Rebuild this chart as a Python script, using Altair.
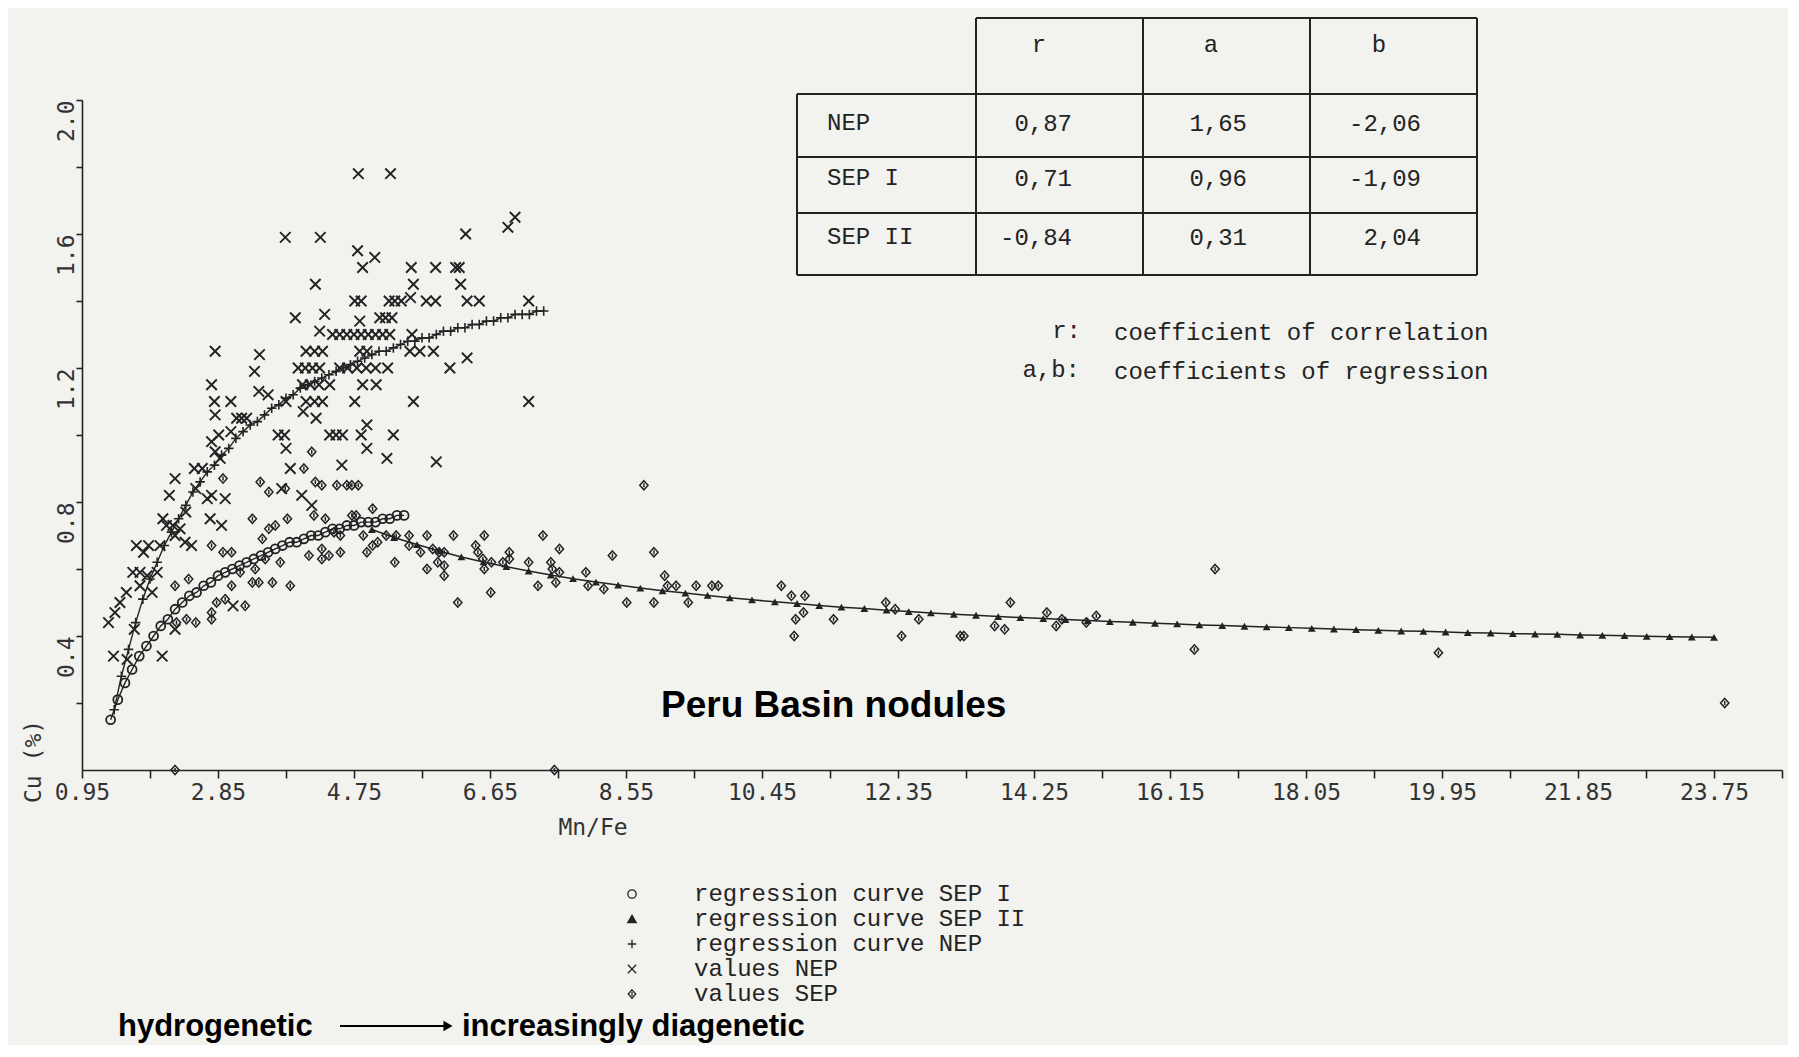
import altair as alt
import pandas as pd

# ---------------- data ----------------
X_TICKS = [0.95, 1.90, 2.85, 3.80, 4.75, 5.70, 6.65, 7.60, 8.55, 9.50, 10.45, 11.40, 12.35,
           13.30, 14.25, 15.20, 16.15, 17.10, 18.05, 19.00, 19.95, 20.90, 21.85, 22.80, 23.75, 24.70]
Y_TICKS = [0.2, 0.4, 0.6, 0.8, 1.0, 1.2, 1.4, 1.6, 1.8, 2.0]

# regression curve NEP (+)
NEP_CURVE_X = [1.4, 1.5, 1.6, 1.7, 1.8, 1.9, 2.0, 2.1, 2.2, 2.3, 2.4, 2.5, 2.6, 2.7, 2.8, 2.9,
               3.0, 3.1, 3.2, 3.3, 3.4, 3.5, 3.6, 3.7, 3.8, 3.9, 4.0, 4.1, 4.2, 4.3, 4.4, 4.5,
               4.6, 4.7, 4.8, 4.9, 5.0, 5.1, 5.2, 5.3, 5.4, 5.5, 5.6, 5.7, 5.8, 5.9, 6.0, 6.1,
               6.2, 6.3, 6.4, 6.5, 6.6, 6.7, 6.8, 6.9, 7.0, 7.1, 7.2, 7.3, 7.4]
NEP_CURVE_Y = [0.18, 0.28, 0.36, 0.44, 0.51, 0.57, 0.62, 0.67, 0.71, 0.75, 0.79, 0.83, 0.86, 0.89, 0.91, 0.94,
               0.96, 0.99, 1.01, 1.03, 1.04, 1.06, 1.08, 1.09, 1.11, 1.12, 1.14, 1.15, 1.16, 1.17, 1.18, 1.19,
               1.20, 1.21, 1.22, 1.23, 1.24, 1.25, 1.25, 1.26, 1.27, 1.28, 1.28, 1.29, 1.29, 1.30, 1.31, 1.31,
               1.32, 1.32, 1.33, 1.33, 1.34, 1.34, 1.35, 1.35, 1.36, 1.36, 1.36, 1.37, 1.37]

# regression curve SEP I (o)
SEP1_CURVE_X = [1.35, 1.45, 1.55, 1.65, 1.75, 1.85, 1.95, 2.05, 2.15, 2.25, 2.35, 2.45, 2.55, 2.65,
                2.75, 2.85, 2.95, 3.05, 3.15, 3.25, 3.35, 3.45, 3.55, 3.65, 3.75, 3.85, 3.95, 4.05,
                4.15, 4.25, 4.35, 4.45, 4.55, 4.65, 4.75, 4.85, 4.95, 5.05, 5.15, 5.25, 5.35, 5.45]
SEP1_CURVE_Y = [0.15, 0.21, 0.26, 0.30, 0.34, 0.37, 0.40, 0.43, 0.45, 0.48, 0.50, 0.52, 0.53, 0.55,
                0.56, 0.58, 0.59, 0.60, 0.61, 0.62, 0.63, 0.64, 0.65, 0.66, 0.67, 0.68, 0.68, 0.69,
                0.70, 0.70, 0.71, 0.72, 0.72, 0.73, 0.73, 0.74, 0.74, 0.74, 0.75, 0.75, 0.76, 0.76]

# regression curve SEP II (triangles)
SEP2_CURVE_X = [5.00, 5.31, 5.63, 5.94, 6.25, 6.56, 6.88, 7.19, 7.50, 7.81, 8.13, 8.44, 8.75, 9.06,
                9.38, 9.69, 10.00, 10.31, 10.63, 10.94, 11.25, 11.56, 11.88, 12.19, 12.50, 12.81,
                13.13, 13.44, 13.75, 14.06, 14.38, 14.69, 15.00, 15.31, 15.63, 15.94, 16.25, 16.56,
                16.88, 17.19, 17.50, 17.81, 18.13, 18.44, 18.75, 19.06, 19.38, 19.69, 20.00, 20.31,
                20.63, 20.94, 21.25, 21.56, 21.88, 22.19, 22.50, 22.81, 23.13, 23.44, 23.75]
SEP2_CURVE_Y = [0.718, 0.694, 0.673, 0.654, 0.636, 0.621, 0.607, 0.594, 0.582, 0.571, 0.561, 0.552, 0.543, 0.535,
                0.528, 0.521, 0.514, 0.508, 0.502, 0.497, 0.491, 0.486, 0.482, 0.477, 0.473, 0.469,
                0.465, 0.462, 0.458, 0.455, 0.452, 0.449, 0.446, 0.443, 0.441, 0.438, 0.436, 0.433,
                0.431, 0.429, 0.427, 0.425, 0.423, 0.421, 0.419, 0.417, 0.415, 0.414, 0.412, 0.410,
                0.409, 0.407, 0.406, 0.405, 0.403, 0.402, 0.401, 0.399, 0.398, 0.397, 0.396]

# values NEP (x)
NEP_VALUES = [
    (4.81, 1.78), (5.26, 1.78), (3.79, 1.59), (4.28, 1.59), (4.80, 1.55), (5.04, 1.53), (4.87, 1.50),
    (4.21, 1.45), (4.76, 1.40), (4.85, 1.40), (5.24, 1.40), (5.32, 1.40), (5.41, 1.40), (5.54, 1.41),
    (3.93, 1.35), (4.34, 1.36), (4.83, 1.34), (5.11, 1.35), (5.19, 1.35), (5.28, 1.35), (4.27, 1.31),
    (4.45, 1.30), (4.55, 1.30), (4.65, 1.30), (4.75, 1.30), (4.85, 1.30), (4.95, 1.30), (5.05, 1.30),
    (5.15, 1.30), (5.25, 1.30), (5.56, 1.30), (2.81, 1.25), (3.43, 1.24), (4.08, 1.25), (4.20, 1.25),
    (4.31, 1.25), (4.83, 1.25), (4.93, 1.25), (5.53, 1.25), (5.67, 1.25), (5.86, 1.25), (6.33, 1.23),
    (3.36, 1.19), (3.97, 1.20), (4.07, 1.20), (4.17, 1.20), (4.27, 1.20), (4.55, 1.20), (4.66, 1.20),
    (4.79, 1.20), (4.92, 1.20), (5.05, 1.20), (5.22, 1.20), (6.09, 1.20), (3.42, 1.13), (3.55, 1.12),
    (4.03, 1.15), (4.14, 1.15), (4.26, 1.15), (4.41, 1.15), (4.87, 1.15), (5.06, 1.15), (3.03, 1.10),
    (3.80, 1.10), (4.08, 1.10), (4.20, 1.10), (4.31, 1.10), (4.76, 1.10), (5.58, 1.10), (7.19, 1.10),
    (4.04, 1.07), (4.22, 1.05), (2.81, 1.06), (3.11, 1.05), (3.18, 1.05), (3.25, 1.05), (2.76, 0.98),
    (2.86, 1.00), (3.03, 1.01), (3.69, 1.00), (3.78, 1.00), (4.41, 1.00), (4.50, 1.00), (4.59, 1.00),
    (4.85, 1.00), (4.93, 1.03), (5.30, 1.00), (3.80, 0.96), (4.93, 0.96), (7.00, 1.65), (6.90, 1.62),
    (6.31, 1.60), (5.55, 1.50), (5.89, 1.50), (6.17, 1.50), (6.22, 1.50), (5.58, 1.45), (6.24, 1.45),
    (5.76, 1.40), (5.89, 1.40), (6.33, 1.40), (6.50, 1.40), (7.19, 1.40),
    (1.32, 0.44), (1.39, 0.34), (1.58, 0.33), (1.41, 0.47), (1.48, 0.50), (1.57, 0.53), (1.68, 0.42),
    (1.66, 0.59), (1.76, 0.59), (1.76, 0.55), (1.86, 0.58), (1.93, 0.53), (2.00, 0.59), (1.71, 0.67),
    (1.81, 0.65), (1.88, 0.67), (2.04, 0.67), (2.08, 0.75), (2.13, 0.73), (2.22, 0.73), (2.25, 0.70),
    (2.32, 0.72), (2.39, 0.68), (2.48, 0.67), (2.17, 0.82), (2.25, 0.87), (2.40, 0.77), (2.52, 0.90),
    (2.54, 0.84), (2.63, 0.90), (2.70, 0.81), (2.76, 0.82), (2.74, 0.75), (2.90, 0.73), (2.81, 0.95),
    (2.88, 0.93), (2.95, 0.81), (2.25, 0.42), (2.07, 0.34), (3.06, 0.49), (3.86, 0.90), (3.74, 0.84),
    (4.02, 0.82), (4.16, 0.79), (4.58, 0.91), (5.21, 0.93), (5.90, 0.92), (2.76, 1.15), (2.80, 1.10),
]

# values SEP (diamonds)
SEP_VALUES = [
    (2.25, 0.00), (7.55, 0.00),
    (2.25, 0.55), (2.44, 0.57), (2.27, 0.44), (2.41, 0.45), (2.54, 0.44), (2.76, 0.67), (2.92, 0.87),
    (2.76, 0.47), (2.76, 0.45), (2.83, 0.50), (2.95, 0.51), (3.23, 0.49), (2.92, 0.65), (3.04, 0.65),
    (3.04, 0.55), (3.16, 0.59), (3.33, 0.75), (3.33, 0.56), (3.42, 0.56), (3.37, 0.60), (3.61, 0.56),
    (3.44, 0.86), (3.56, 0.83), (3.47, 0.69), (3.56, 0.72), (3.65, 0.73), (3.82, 0.75), (3.72, 0.62),
    (3.86, 0.55), (3.51, 0.63), (3.79, 0.84), (4.05, 0.90), (4.16, 0.95), (4.21, 0.86), (4.30, 0.85),
    (4.51, 0.85), (4.65, 0.85), (4.72, 0.85), (4.81, 0.85), (4.12, 0.64), (4.30, 0.66), (4.40, 0.64),
    (4.56, 0.65), (4.30, 0.63), (4.19, 0.76), (4.35, 0.75), (4.47, 0.71), (4.56, 0.70), (4.72, 0.76),
    (5.01, 0.78), (4.78, 0.76), (4.88, 0.70), (4.93, 0.65), (5.01, 0.67), (5.08, 0.68), (5.20, 0.70),
    (5.34, 0.70), (5.32, 0.62), (5.52, 0.70), (5.52, 0.67), (5.68, 0.65), (5.77, 0.70), (5.77, 0.60),
    (5.85, 0.66), (5.94, 0.65), (6.01, 0.65), (5.92, 0.62), (6.01, 0.61), (6.01, 0.58), (6.14, 0.70),
    (6.20, 0.50), (6.45, 0.67), (6.57, 0.70), (6.48, 0.65), (6.55, 0.63), (6.57, 0.60), (6.67, 0.62),
    (6.66, 0.53), (6.83, 0.62), (6.92, 0.65), (6.92, 0.63), (7.19, 0.62), (7.32, 0.55), (7.39, 0.70),
    (7.50, 0.62), (7.52, 0.60), (7.62, 0.66), (7.62, 0.59), (7.57, 0.56), (7.99, 0.59), (8.02, 0.55),
    (8.24, 0.54), (8.36, 0.64), (8.56, 0.50), (8.80, 0.85), (8.94, 0.65), (8.94, 0.50), (9.09, 0.58),
    (9.13, 0.55), (9.25, 0.55), (9.42, 0.50), (9.53, 0.55), (9.75, 0.55), (9.84, 0.55), (10.72, 0.55),
    (10.86, 0.52), (11.05, 0.52), (10.92, 0.45), (11.03, 0.47), (10.90, 0.40), (11.45, 0.45),
    (12.18, 0.50), (12.31, 0.48), (12.40, 0.40), (12.64, 0.45), (13.22, 0.40), (13.27, 0.40),
    (13.70, 0.43), (13.84, 0.42), (13.92, 0.50), (14.43, 0.47), (14.56, 0.43), (14.64, 0.45),
    (14.98, 0.44), (15.12, 0.46), (16.49, 0.36), (16.78, 0.60), (19.90, 0.35), (23.90, 0.20),
]

TABLE_COLS = ["r", "a", "b"]
TABLE_ROWS = ["NEP", "SEP I", "SEP II"]
TABLE_VALUES = [["0,87", "1,65", "-2,06"],
                ["0,71", "0,96", "-1,09"],
                ["-0,84", "0,31", "2,04"]]
NOTE_KEYS = ["r:", "a,b:"]
NOTE_TEXTS = ["coefficient of correlation", "coefficients of regression"]
LEGEND_LABELS = ["regression curve SEP I", "regression curve SEP II", "regression curve NEP",
                 "values NEP", "values SEP"]
X_TITLE = "Mn/Fe"
Y_TITLE = "Cu (%)"
CHART_LABEL = "Peru Basin nodules"
LEFT_WORD = "hydrogenetic"
RIGHT_WORD = "increasingly diagenetic"

# ---------------- styling ----------------
INK = "#232323"
PAPER = "#f2f2ef"
MONO = "Liberation Mono"
AXFONT = "DejaVu Sans Mono"
X_SHAPE = "M-1,-1L1,1M-1,1L1,-1"
PLUS_SHAPE = "M-1,0L1,0M0,-1L0,1"
DIAMOND_SHAPE = "M0,-1L0.9,0L0,1L-0.9,0ZM0,-0.45L0,0.45"

W, H = 1700, 670

xscale = alt.Scale(domain=[0.95, 24.7], nice=False, zero=False)
yscale = alt.Scale(domain=[0, 2.0], nice=False, zero=False)

xaxis = alt.Axis(values=X_TICKS, title=None, grid=False,
                 labelExpr="(round(datum.value*100) % 190 == 95) ? format(datum.value, '.2f') : ''",
                 tickSize=8, tickWidth=1.6, tickColor=INK, domainColor=INK, domainWidth=1.6,
                 labelFont=AXFONT, labelFontSize=23, labelColor="#333333", labelPadding=3,
                 labelFlush=False, labelOverlap=False)
yaxis = alt.Axis(values=Y_TICKS, title=None, grid=False,
                 labelExpr="(round(datum.value*10) % 4 == 0) ? format(datum.value, '.1f') : ''",
                 tickSize=6, tickWidth=1.6, tickColor=INK, domainColor=INK, domainWidth=1.6,
                 labelFont=AXFONT, labelFontSize=23, labelColor="#333333", labelAngle=270,
                 labelAlign="right", labelBaseline="middle", labelPadding=10,
                 labelFlush=False, labelOverlap=False)

X = alt.X("x:Q", scale=xscale, axis=xaxis)
Y = alt.Y("y:Q", scale=yscale, axis=yaxis)


def xy(xs, ys):
    return pd.DataFrame({"x": xs, "y": ys})


def pairs(p):
    return pd.DataFrame({"x": [a for a, _ in p], "y": [b for _, b in p]})


layers = []

# values
layers.append(alt.Chart(pairs(NEP_VALUES)).mark_point(
    shape=X_SHAPE, size=110, strokeWidth=1.9, color=INK, filled=False, opacity=1).encode(x=X, y=Y))
layers.append(alt.Chart(pairs(SEP_VALUES)).mark_point(
    shape=DIAMOND_SHAPE, size=85, strokeWidth=1.5, color=INK, filled=False, opacity=1).encode(x=X, y=Y))

# regression curves
nep_df = xy(NEP_CURVE_X, NEP_CURVE_Y)
sep1_df = xy(SEP1_CURVE_X, SEP1_CURVE_Y)
sep2_df = xy(SEP2_CURVE_X, SEP2_CURVE_Y)
layers.append(alt.Chart(nep_df).mark_line(color=INK, strokeWidth=1.4).encode(x=X, y=Y))
layers.append(alt.Chart(nep_df).mark_point(
    shape=PLUS_SHAPE, size=90, strokeWidth=1.6, color=INK, filled=False, opacity=1).encode(x=X, y=Y))
layers.append(alt.Chart(sep1_df).mark_line(color=INK, strokeWidth=1.4).encode(x=X, y=Y))
layers.append(alt.Chart(sep1_df).mark_point(
    shape="circle", size=80, strokeWidth=1.8, color=INK, filled=False, opacity=1).encode(x=X, y=Y))
layers.append(alt.Chart(sep2_df).mark_line(color=INK, strokeWidth=1.5).encode(x=X, y=Y))
layers.append(alt.Chart(sep2_df).mark_point(
    shape="triangle-up", size=62, color=INK, filled=True, opacity=1).encode(x=X, y=Y))

PX = alt.X("px:Q", scale=None, axis=None)
PY = alt.Y("py:Q", scale=None, axis=None)

# ---- table (positions in pixels relative to plot origin) ----
col_lines = [715, 894, 1061, 1228, 1395]
row_lines = [-82, -6, 57, 113, 175]
segs = []
segs.append({"px": col_lines[1], "px2": col_lines[-1], "py": row_lines[0], "py2": row_lines[0]})
for yv in row_lines[1:]:
    segs.append({"px": col_lines[0], "px2": col_lines[-1], "py": yv, "py2": yv})
segs.append({"px": col_lines[0], "px2": col_lines[0], "py": row_lines[1], "py2": row_lines[-1]})
for xv in col_lines[1:]:
    segs.append({"px": xv, "px2": xv, "py": row_lines[0], "py2": row_lines[-1]})
layers.append(alt.Chart(pd.DataFrame(segs)).mark_rule(color=INK, strokeWidth=2).encode(
    x=PX, x2="px2:Q", y=PY, y2="py2:Q"))

header_x = [957, 1129, 1297]
row_y = [23, 78, 137]
value_right = [990, 1165, 1339]

head_df = pd.DataFrame({"t": TABLE_COLS, "px": header_x, "py": [-55] * 3})
layers.append(alt.Chart(head_df).mark_text(font=MONO, fontSize=24, color=INK, align="center",
                                           baseline="middle").encode(x=PX, y=PY, text="t:N"))
rowlab_df = pd.DataFrame({"t": TABLE_ROWS, "px": [745] * 3, "py": row_y})
layers.append(alt.Chart(rowlab_df).mark_text(font=MONO, fontSize=24, color=INK, align="left",
                                             baseline="middle").encode(x=PX, y=PY, text="t:N"))
vals = []
for i, row in enumerate(TABLE_VALUES):
    for j, v in enumerate(row):
        vals.append({"t": v, "px": value_right[j], "py": row_y[i] + 1})
layers.append(alt.Chart(pd.DataFrame(vals)).mark_text(font=MONO, fontSize=24, color=INK, align="right",
                                                      baseline="middle").encode(x=PX, y=PY, text="t:N"))

note_key_df = pd.DataFrame({"t": NOTE_KEYS, "px": [999, 998], "py": [231, 270]})
layers.append(alt.Chart(note_key_df).mark_text(font=MONO, fontSize=24, color=INK, align="right",
                                               baseline="middle").encode(x=PX, y=PY, text="t:N"))
note_df = pd.DataFrame({"t": NOTE_TEXTS, "px": [1032, 1032], "py": [233, 272]})
layers.append(alt.Chart(note_df).mark_text(font=MONO, fontSize=24, color=INK, align="left",
                                           baseline="middle").encode(x=PX, y=PY, text="t:N"))

# ---- axis titles ----
layers.append(alt.Chart(pd.DataFrame({"t": [X_TITLE], "px": [511], "py": [728]})).mark_text(
    font=AXFONT, fontSize=23, color="#333333", align="center", baseline="middle").encode(
    x=PX, y=PY, text="t:N"))
layers.append(alt.Chart(pd.DataFrame({"t": [Y_TITLE], "px": [-48], "py": [703]})).mark_text(
    font=AXFONT, fontSize=23, color="#333333", align="left", baseline="middle", angle=270).encode(
    x=PX, y=PY, text="t:N"))

# ---- legend ----
leg_y = [794, 819, 844, 869, 894]
leg_df = pd.DataFrame({
    "t": LEGEND_LABELS,
    "px": [612] * 5,
    "sx": [550] * 5,
    "py": leg_y,
    "shape": ["circle", "triangle-up", PLUS_SHAPE, X_SHAPE, DIAMOND_SHAPE],
    "fill": ["transparent", INK, "transparent", "transparent", "transparent"],
})
layers.append(alt.Chart(leg_df).mark_text(font=MONO, fontSize=24, color=INK, align="left",
                                          baseline="middle").encode(x=PX, y=PY, text="t:N"))
layers.append(alt.Chart(leg_df).mark_point(size=70, strokeWidth=1.3, stroke=INK, opacity=1).encode(
    x=alt.X("sx:Q", scale=None, axis=None), y=PY,
    shape=alt.Shape("shape:N", scale=None), fill=alt.Fill("fill:N", scale=None)))

# ---- annotations ----
layers.append(alt.Chart(pd.DataFrame({"t": [CHART_LABEL], "px": [579], "py": [617]})).mark_text(
    font="Liberation Sans", fontSize=37, fontWeight="bold", color="#000000", align="left",
    baseline="alphabetic").encode(x=PX, y=PY, text="t:N"))
bottom_df = pd.DataFrame({"t": [LEFT_WORD, RIGHT_WORD], "px": [36, 380], "py": [936, 936]})
layers.append(alt.Chart(bottom_df).mark_text(
    font="Liberation Sans", fontSize=31, fontWeight="bold", color="#000000", align="left",
    baseline="alphabetic").encode(x=PX, y=PY, text="t:N"))
arrow_df = pd.DataFrame({"px": [258], "px2": [362], "py": [926]})
layers.append(alt.Chart(arrow_df).mark_rule(color="#000000", strokeWidth=2).encode(
    x=PX, x2="px2:Q", y=PY))
head_df2 = pd.DataFrame({"px": [366], "py": [926]})
layers.append(alt.Chart(head_df2).mark_point(shape="triangle-right", size=110, filled=True,
                                             color="#000000", opacity=1).encode(x=PX, y=PY))

chart = alt.layer(*layers).properties(
    width=W, height=H,
    autosize=alt.AutoSizeParams(type="none"),
    padding={"left": 74, "top": 92, "right": 6, "bottom": 275},
    background=PAPER,
).configure_view(stroke=None)

chart.save("out.html", embed_options={"renderer": "svg", "actions": False})
